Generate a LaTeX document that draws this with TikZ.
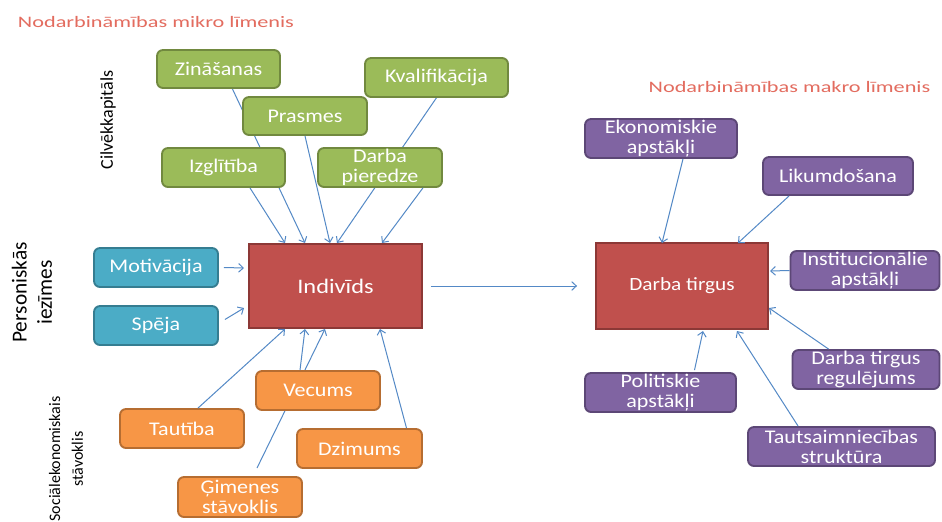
\documentclass[tikz,border=0pt]{standalone}
\usepackage{fontspec}
\setmainfont{Carlito}
\newfontfamily\boxfont[FakeStretch=1.14]{Carlito}
\newfontfamily\bigfont[FakeStretch=1.18]{Carlito}
\newfontfamily\ttlfont[FakeStretch=1.39]{Carlito}
\usetikzlibrary{arrows.meta,calc}
\definecolor{gfill}{RGB}{155,187,89}
\definecolor{gdraw}{RGB}{113,137,63}
\definecolor{bfill}{RGB}{75,172,198}
\definecolor{bdraw}{RGB}{53,125,145}
\definecolor{ofill}{RGB}{247,150,70}
\definecolor{odraw}{RGB}{182,109,49}
\definecolor{pfill}{RGB}{128,100,162}
\definecolor{pdraw}{RGB}{92,71,118}
\definecolor{rfill}{RGB}{192,80,77}
\definecolor{rdraw}{RGB}{140,56,54}
\definecolor{arr}{RGB}{84,137,198}
\definecolor{ttl}{RGB}{227,108,95}
\tikzset{
  boxbase/.style={rounded corners=4.5pt, line width=1.4pt, text=white, align=center,
    inner sep=0pt, font=\boxfont\fontsize{14.5pt}{15pt}\selectfont},
  gbox/.style={boxbase, fill=gfill, draw=gdraw},
  bbox/.style={boxbase, fill=bfill, draw=bdraw},
  obox/.style={boxbase, fill=ofill, draw=odraw},
  pbox/.style={boxbase, fill=pfill, draw=pdraw},
  rbox/.style={line width=1.4pt, fill=rfill, draw=rdraw, text=white},
  sz/.style 2 args={minimum width=#1*0.75pt, minimum height=#2*0.75pt},
  con/.style={draw=arr, line width=0.75pt, -{Straight Barb[length=3.5pt,width=6.5pt]}},
  ttlstyle/.style={text=ttl, font=\ttlfont\fontsize{12pt}{14pt}\selectfont, inner sep=0pt},
  side/.style={rotate=90, align=center, inner sep=0pt}
}
\begin{document}
\begin{tikzpicture}[x=0.75pt,y=-0.75pt]
\useasboundingbox[fill=white] (0,0) rectangle (942,521);
% titles
\node[ttlstyle] (t1) at (156,22) {Nodarbināmības mikro līmenis};
\node[ttlstyle] (t2) at (789.5,87) {Nodarbināmības makro līmenis};
% side labels
\node[side, font=\fontsize{13.5pt}{16pt}\selectfont] (s1) at (108,120) {Cilvēkkapitāls};
\node[side, font=\fontsize{16pt}{19pt}\selectfont] (s2) at (32,292.5) {Personiskās\\iezīmes};
\node[side, font=\fontsize{12pt}{17pt}\selectfont] (s3) at (66,459) {Sociālekonomiskais\\stāvoklis};
% named free ends
\coordinate (zS) at (232,88);
\coordinate (gS) at (257,468);
\coordinate (kS) at (437,97);
% central nodes
\node[rbox, sz={173}{84}, font=\bigfont\fontsize{15.5pt}{18pt}\selectfont] (ind) at (335.5,286) {Indivīds};
\node[rbox, sz={172}{86}, font=\boxfont\fontsize{14pt}{17pt}\selectfont] (dt) at (682,286) {Darba tirgus};
% anchors on the central boxes
\coordinate (i1) at (285,243);
\coordinate (i2) at (305,243);
\coordinate (i3) at (330,243);
\coordinate (i4) at (337,243);
\coordinate (i5) at (382,243);
\coordinate (iL1) at (244,268);
\coordinate (iL2) at (244,308);
\coordinate (iB1) at (285,329);
\coordinate (iB2) at (305,329);
\coordinate (iB3) at (325,329);
\coordinate (iB4) at (380,329);
% arrows that pass behind boxes
\draw[con] (zS) -- (i2);
\draw[con] (kS) -- (i4);
\draw[con] (gS) -- (iB3);
% green
\node[gbox, sz={123}{38}] (zin) at (218.5,69) {Zināšanas};
\node[gbox, sz={143}{39}] (kva) at (436.5,77.5) {Kvalifikācija};
\node[gbox, sz={124}{38}] (pra) at (305,116) {Prasmes};
\node[gbox, sz={123}{39}] (izg) at (223.5,167.5) {Izglītība};
\node[gbox, sz={124}{39}] (dpi) at (380,167.5) {Darba\\pieredze};
% blue
\node[bbox, sz={124}{39}] (mot) at (156,267.5) {Motivācija};
\node[bbox, sz={124}{39}] (spe) at (156,325.5) {Spēja};
% orange
\node[obox, sz={124}{39}] (vec) at (318,390.5) {Vecums};
\node[obox, sz={124}{39}] (tau) at (182,428.5) {Tautība};
\node[obox, sz={125}{39}] (dzi) at (359.5,448.5) {Dzimums};
\node[obox, sz={124}{40}] (gim) at (240,497) {Ģimenes\\stāvoklis};
% purple
\node[pbox, sz={152}{39}] (eko) at (661,138.5) {Ekonomiskie\\apstākļi};
\node[pbox, sz={150}{38}] (lik) at (838,176) {Likumdošana};
\node[pbox, sz={149}{39}] (ins) at (865,270.5) {Institucionālie\\apstākļi};
\node[pbox, sz={147}{39}] (reg) at (866,369.5) {Darba tirgus\\regulējums};
\node[pbox, sz={151}{39}] (pol) at (660.5,392.5) {Politiskie\\apstākļi};
\node[pbox, sz={187}{39}] (tsa) at (841.5,446.5) {Tautsaimniecības\\struktūra};
% connectors into Indivīds
\draw[con] ($(izg.south)+(26.5,0)$) -- (i1);
\draw[con] (pra.south) -- (i3);
\draw[con] ($(dpi.south east)+(-20,0)$) -- (i5);
\draw[con] ($(mot.east)+(5,0)$) -- (iL1);
\draw[con] ($(spe.east)+(6,-6)$) -- (iL2);
\draw[con] ($(tau.north)+(16,0)$) -- (iB1);
\draw[con] ($(vec.north)+(-18,0)$) -- (iB2);
\draw[con] ($(dzi.north)+(47,0)$) -- (iB4);
% main arrow
\draw[con] ($(ind.east)+(8,0)$) -- ($(dt.west)+(-18,0)$);
% connectors into Darba tirgus
\coordinate (d1) at (662,243);
\coordinate (d2) at (738,243);
\coordinate (d3) at (770,271);
\coordinate (d4) at (769,308);
\coordinate (d5) at (703,331);
\coordinate (d6) at (737,331);
\draw[con] ($(eko.south)+(22,0)$) -- (d1);
\draw[con] ($(lik.south west)+(27,0)$) -- (d2);
\draw[con] (ins.west) -- (d3);
\draw[con] ($(reg.north west)+(37,0)$) -- (d4);
\draw[con] ($(pol.north)+(34,-2)$) -- (d5);
\draw[con] ($(tsa.north west)+(51,0)$) -- (d6);
\end{tikzpicture}
\end{document}
